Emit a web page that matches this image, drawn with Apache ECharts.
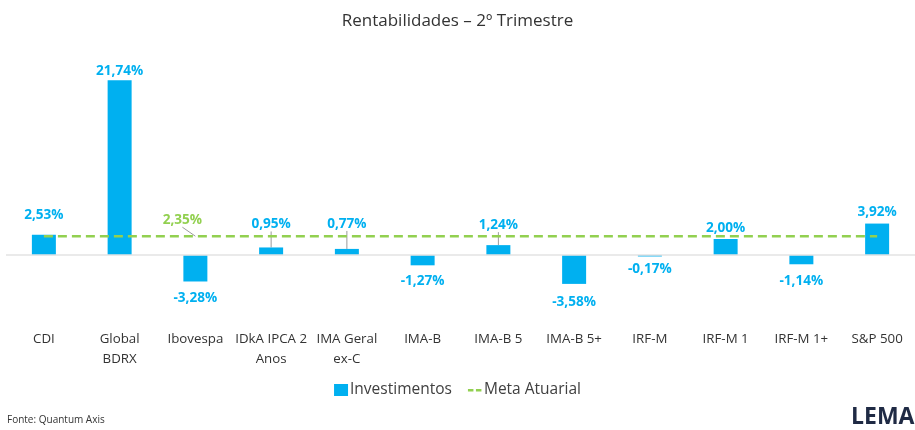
<!DOCTYPE html>
<html><head><meta charset="utf-8">
<script src="https://cdn.jsdelivr.net/npm/echarts@6/dist/echarts.min.js"></script>
<style>html,body{margin:0;padding:0;background:#fff;}#c{width:915px;height:430px;}</style>
</head><body><div id="c"></div>
<script>
var categories = ['CDI', 'Global\nBDRX', 'Ibovespa', 'IDkA IPCA 2\nAnos', 'IMA Geral\nex-C', 'IMA-B', 'IMA-B 5', 'IMA-B 5+', 'IRF-M', 'IRF-M 1', 'IRF-M 1+', 'S&P 500'];
var investimentos = [2.53, 21.74, -3.28, 0.95, 0.77, -1.27, 1.24, -3.58, -0.17, 2.00, -1.14, 3.92];
var metaAtuarial = [2.35, 2.35, 2.35, 2.35, 2.35, 2.35, 2.35, 2.35, 2.35, 2.35, 2.35, 2.35];
var metaLabelIndex = 2;
// label vertical shifts and leader-line flags (styling)
var labelShift = [-8, 3, 5, -11, -13, 4, -8, 6, 1, 1, 5, 1];
var labelLeader = [false, false, false, true, true, false, true, false, false, false, false, false];

var BLUE = '#00B0F0', GREEN = '#92D050';
function fmt(v){ return v.toFixed(2).replace('.', ',') + '%'; }

var barData = investimentos.map(function(v, i){
  return { value: v, label: { position: v < 0 ? 'bottom' : 'top' }, labelLine: { show: labelLeader[i] } };
});
var lineData = metaAtuarial.map(function(v, i){
  return i === metaLabelIndex
    ? { value: v, symbol: 'circle', symbolSize: 0.01, label: { show: true }, labelLine: { show: true } }
    : { value: v };
});

var chart = echarts.init(document.getElementById('c'));
chart.setOption({
  animation: false,
  title: { text: 'Rentabilidades – 2º Trimestre', left: 'center', top: 8,
    textStyle: { fontFamily: 'Open Sans', fontSize: 17, fontWeight: 'normal', color: '#333' } },
  legend: { bottom: 27, left: 'center', itemGap: 16, itemWidth: 14, itemHeight: 12,
    textStyle: { fontFamily: 'Open Sans', fontSize: 15.5, color: '#404040', padding: [0, 0, 0, -3] },
    data: [
      { name: 'Investimentos', icon: 'rect' },
      { name: 'Meta Atuarial', icon: 'path://M0,0h0.01v0.01h-0.01zM0,5h5.5v2.4h-5.5zM8,5h5.5v2.4h-5.5zM13.99,12h0.01v0.01h-0.01z',
        itemStyle: { color: GREEN } }
    ] },
  grid: { left: 6, right: -3, top: 54, height: 273.5 },
  xAxis: { type: 'category', data: categories,
    axisLine: { show: false, onZero: false }, axisTick: { show: false },
    axisLabel: { margin: 2, fontFamily: 'Open Sans', fontSize: 13.3, color: '#333', lineHeight: 20, interval: 0 } },
  yAxis: { type: 'value', min: -9, max: 25, show: false, splitLine: { show: false } },
  series: [
    { name: 'Investimentos', type: 'bar', data: barData, barWidth: 24,
      itemStyle: { color: BLUE },
      label: { show: true, distance: 5, formatter: function(p){ return fmt(p.value); },
        fontFamily: 'Open Sans', fontSize: 13.6, fontWeight: 'bold', color: BLUE },
      labelLine: { show: false, lineStyle: { color: '#9a9a9a', width: 1 } },
      labelLayout: function(p){ return { dy: labelShift[p.dataIndex] }; },
      markLine: { silent: true, symbol: 'none', label: { show: false },
        lineStyle: { color: '#e3e3e3', type: 'solid', width: 1.5 }, data: [{ yAxis: 0 }] },
      z: 3 },
    { name: 'Meta Atuarial', type: 'line', data: lineData, symbol: 'none', showSymbol: true,
      lineStyle: { color: GREEN, type: [9, 5], width: 2.5 }, itemStyle: { color: GREEN },
      label: { show: false, position: 'top', formatter: function(p){ return fmt(p.value); },
        fontFamily: 'Open Sans', fontSize: 13.6, fontWeight: 'bold', color: GREEN },
      labelLine: { show: false, lineStyle: { color: '#9a9a9a', width: 1 } },
      labelLayout: { dx: -13, dy: -4 },
      z: 4 }
  ],
  graphic: [
    { type: 'text', left: 7, top: 415, style: { text: 'Fonte: Quantum Axis', font: '10px "Open Sans"', fill: '#333' } },
    { type: 'text', left: 851, top: 406, style: { text: 'LEMA', font: 'bold 23px "Open Sans"', fill: '#1f2a44' } }
  ]
});
</script></body></html>
